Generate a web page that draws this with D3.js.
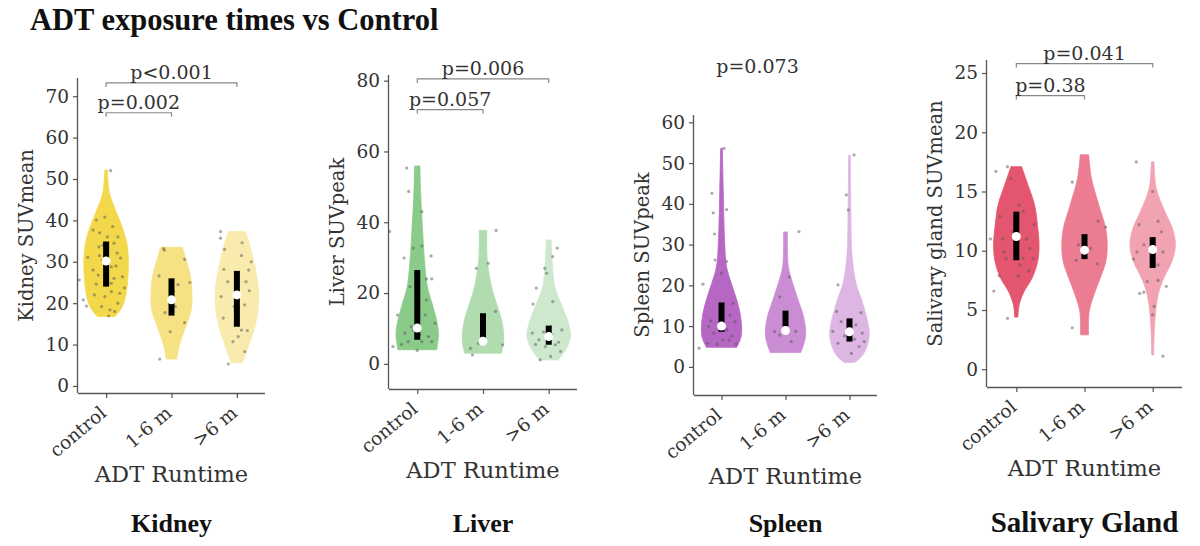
<!DOCTYPE html>
<html>
<head>
<meta charset="utf-8">
<script src="https://cdn.jsdelivr.net/npm/d3@7"></script>
<style>
  html, body { margin: 0; padding: 0; background: #fff; }
  svg { display: block; }
</style>
</head>
<body>
<svg id="chart" width="1200" height="546"></svg>
<script>
// ---------------- DATA ----------------
const categories = ["control", "1-6 m", ">6 m"];

// violin profiles: [value, relative half-width] from bottom to top (cut at data range)
const kidneyViolin = [
  [[16.8,0.4],[19.1,0.72],[22.4,0.9],[26.3,0.98],[30.4,1.0],[34.5,0.93],[38.4,0.72],[42.5,0.42],[46.6,0.15],[52.2,0.06]],
  [[6.5,0.23],[10.4,0.38],[14.3,0.64],[18.4,0.89],[22.4,0.92],[26.3,0.86],[30.4,0.66],[33.5,0.49]],
  [[5.6,0.25],[10.4,0.57],[14.3,0.81],[18.4,0.95],[22.4,0.98],[26.3,0.9],[30.4,0.75],[34.5,0.55],[37.3,0.38]]
];
const liverViolin = [
  [[4.0,0.87],[5.8,0.91],[8.7,0.95],[12.4,0.86],[17.1,0.66],[21.8,0.45],[29.4,0.32],[38.8,0.23],[48.2,0.15],[55.9,0.12]],
  [[3.0,0.82],[4.9,0.89],[7.7,0.93],[12.4,0.83],[17.1,0.6],[21.8,0.38],[29.4,0.19],[37.7,0.17]],
  [[1.1,0.42],[4.0,0.76],[7.7,0.98],[11.5,0.88],[16.2,0.6],[21.8,0.27],[29.4,0.15],[35.0,0.11]]
];
const spleenViolin = [
  [[4.8,0.7],[6.6,0.85],[8.2,0.92],[12.3,0.88],[16.4,0.7],[20.5,0.45],[24.6,0.23],[31.1,0.14],[43.4,0.08],[53.6,0.04]],
  [[3.5,0.7],[5.8,0.85],[8.2,0.93],[12.3,0.83],[16.4,0.58],[20.5,0.33],[24.6,0.13],[33.1,0.09]],
  [[1.1,0.24],[2.5,0.55],[5.0,0.8],[8.2,0.91],[12.3,0.78],[16.4,0.56],[20.5,0.3],[27.0,0.12],[39.3,0.06],[51.9,0.04]]
];
const salivaryViolin = [
  [[4.4,0.07],[5.4,0.12],[6.5,0.32],[7.7,0.68],[9.1,0.92],[10.5,0.98],[12.2,0.91],[13.85,0.79],[15.5,0.51],[17.1,0.23]],
  [[2.9,0.17],[4.85,0.2],[6.25,0.4],[7.7,0.68],[9.1,0.92],[10.5,0.98],[11.9,0.91],[13.85,0.62],[16.1,0.3],[18.1,0.18]],
  [[1.2,0.04],[4.0,0.09],[6.25,0.23],[7.7,0.48],[9.1,0.83],[10.5,0.98],[11.9,0.85],[13.3,0.53],[15.3,0.15],[17.5,0.06]]
];

// inner boxes: [q1, median, q3]
const kidneyBox   = [[24,30.2,34.9],[17,20.8,26],[14.3,22,27.8]];
const liverBox    = [[6.8,10.1,26.5],[7.4,6.4,14.3],[5.4,7.7,10.8]];
const spleenBox   = [[8.6,10,15.8],[9.9,8.9,13.8],[6.2,8.6,11.9]];
const salivaryBox = [[9.2,11.2,13.3],[9.3,10.05,11.4],[8.55,10.1,11.15]];

// strip points: [jitter (fraction of category step), value]
const kidneyPoints = [
  [[0.07,52],[-0.15,40.1],[-0.02,40.8],[-0.2,37.7],[-0.1,37],[0.18,36],[0.12,34.5],[-0.11,33.6],[-0.28,31.1],[0.22,30.9],[0.08,28.8],[-0.12,26.8],[0.25,26.4],[-0.15,24.6],[0.28,23.7],[0.08,22.8],[-0.02,21.6],[0.18,20],[0.06,18.4],[0.13,18],[-0.35,20.8],[-0.3,19.3],[0.04,16.9],[-0.06,30.4],[0.02,36],[0.17,32.1],[-0.2,28],[0.08,24.8],[0.21,22.4],[-0.07,19.2],[-0.41,25.6],[0.1,38.5],[-0.05,34],[0.15,29],[-0.18,22],[0.0,27],[0.12,26],[-0.1,31.5]],
  [[-0.12,33.2],[-0.11,32.8],[0.2,30.6],[-0.19,26.6],[0.28,25],[-0.1,17.7],[0.2,15.3],[-0.02,13.1],[-0.18,6.5],[0.06,19.2],[0.03,22.8],[0.1,24.5]],
  [[-0.25,37.3],[-0.25,35.7],[-0.19,33],[0.08,34.6],[0.07,31.5],[-0.2,28.2],[0.18,28],[-0.14,25.2],[0.14,25.2],[-0.24,21.6],[0.19,23],[0.12,19.6],[-0.21,16.4],[0.07,13.5],[0.16,13.4],[-0.06,10.7],[0.02,11.9],[0.12,8.3],[-0.13,5.3],[-0.04,19.2],[0.22,30]]
];
const liverPoints = [
  [[-0.16,55.3],[-0.13,48.7],[0.07,43],[-0.2,29.9],[-0.06,32.7],[0.07,33.3],[0.21,30.5],[-0.42,37.4],[0.22,24],[0.14,24],[-0.11,21.8],[0.14,18.1],[-0.3,13.8],[0.12,13.8],[0.27,11.5],[-0.19,8.7],[-0.06,9.6],[0.17,7.7],[-0.14,6.3],[0.07,6.3],[0.22,6.3],[-0.37,4.9],[0,3.8],[-0.24,5.5],[0.04,8.2],[-0.09,10.5]],
  [[0.2,37.7],[-0.1,27],[0.08,28.4],[0.19,14.8],[-0.07,5.8],[-0.19,4.4],[0.3,5.4],[0.04,7],[-0.16,2.5],[0,6.5]],
  [[0.13,32.7],[0.06,30.3],[-0.06,27],[-0.03,25.6],[-0.19,21.4],[-0.24,16.9],[0.06,17.6],[0.03,10.5],[0.2,9.6],[-0.25,8.7],[-0.15,6.8],[0.1,5.4],[0.15,6.1],[-0.05,4.9],[0.03,2.1],[-0.13,1.1],[-0.2,5.5],[0.18,3.5],[0.05,8.2],[-0.08,9]]
];
const spleenPoints = [
  [[0.04,53.6],[-0.15,42.6],[-0.13,37.8],[0.08,38.6],[-0.11,32.6],[-0.1,26.2],[0.08,25.9],[-0.29,20.3],[0,23],[0.18,15.6],[0.13,12.7],[0.21,11.1],[-0.2,9.9],[0.08,9.1],[-0.12,8.3],[0.16,7.6],[0.02,6.6],[-0.22,5.8],[0.23,5.6],[-0.07,5.6],[-0.35,4.6],[0.12,6.6],[-0.17,11.3]],
  [[0.21,33.2],[-0.09,17.2],[0.06,22.1],[-0.17,8.7],[0.16,8.7],[0,8.3],[0.09,6.2],[-0.09,7.8]],
  [[0.07,52],[-0.05,42.2],[-0.02,38.5],[-0.18,20.1],[-0.2,13.6],[0.18,13.3],[-0.13,11.1],[0.1,10.3],[-0.26,8.7],[0.2,8.3],[-0.08,7.6],[0.08,6.8],[0.15,5],[0.03,3.3],[-0.18,5.8],[0.23,6.2]]
];
const salivaryPoints = [
  [[-0.3,16.7],[-0.13,17.1],[-0.08,16.1],[-0.24,12.9],[0.04,13.85],[0.1,13.3],[0.26,12.2],[-0.38,11],[0.15,11],[-0.18,9.9],[0.2,10.2],[0.1,9.35],[-0.15,9.35],[0.18,8.3],[0.05,8.8],[-0.33,6.6],[-0.13,4.3],[-0.05,11.6],[-0.2,11],[0.25,9.35],[0.03,7.9],[-0.25,7.9]],
  [[-0.18,15.8],[0.31,12],[0.2,12.5],[-0.09,10.5],[-0.12,9.2],[0.09,10.2],[0.19,8.9],[-0.18,3.5],[0,9.4]],
  [[-0.24,17.5],[0,15],[-0.2,12.2],[0.08,12.5],[0.13,11.6],[-0.23,9.9],[-0.13,10.5],[0.15,9.9],[0.08,8.8],[-0.08,7.4],[0.08,7.5],[0.2,7],[-0.19,6.4],[-0.13,6.5],[0.02,5.3],[0,4.6],[0.15,1.1],[-0.28,9.3]]
];

// y tick values
const kidneyTicks   = [0,10,20,30,40,50,60,70];
const liverTicks    = [0,20,40,60,80];
const spleenTicks   = [0,10,20,30,40,50,60];
const salivaryTicks = [0,5,10,15,20,25];

// significance annotations
const kidneyP   = [{a:0,b:1,label:"p=0.002",level:66},{a:0,b:2,label:"p<0.001",level:73.2}];
const liverP    = [{a:0,b:1,label:"p=0.057",level:71.8},{a:0,b:2,label:"p=0.006",level:80.5}];
const spleenP   = [{a:0,b:1,label:"p=0.073",level:72,noLine:true}];
const salivaryP = [{a:0,b:1,label:"p=0.38",level:23.1},{a:0,b:2,label:"p=0.041",level:25.8}];

// colours
const kidneyColors   = ["#f4d84b","#f6e282","#f8ebad"];
const liverColors    = ["#8acb8a","#b0dcb0","#cde8cd"];
const spleenColors   = ["#b666c3","#ca8dd4","#ddb6e4"];
const salivaryColors = ["#e4566f","#ec7c91","#f2a3b2"];

// ---------------- LAYOUT ----------------
const panels = [
  {title:"Kidney", ylabel:"Kidney SUVmean", x0:78, w:187, top:78, bottom:393, ydom:[-1.7,74.4],
   violin:kidneyViolin, box:kidneyBox, pts:kidneyPoints, ticks:kidneyTicks, pv:kidneyP, colors:kidneyColors, titleSize:26},
  {title:"Liver", ylabel:"Liver SUVpeak", x0:389, w:188, top:75, bottom:389, ydom:[-7.1,81.6],
   violin:liverViolin, box:liverBox, pts:liverPoints, ticks:liverTicks, pv:liverP, colors:liverColors, titleSize:26},
  {title:"Spleen", ylabel:"Spleen SUVpeak", x0:694, w:183, top:115, bottom:395, ydom:[-6.9,61.8],
   violin:spleenViolin, box:spleenBox, pts:spleenPoints, ticks:spleenTicks, pv:spleenP, colors:spleenColors, titleSize:26},
  {title:"Salivary Gland", ylabel:"Salivary gland SUVmean", x0:987, w:195, top:60, bottom:387, ydom:[-1.5,26.1],
   violin:salivaryViolin, box:salivaryBox, pts:salivaryPoints, ticks:salivaryTicks, pv:salivaryP, colors:salivaryColors, titleSize:29}
];

const SERIF = "'DejaVu Serif', serif";
const TITLE_SERIF = "'Liberation Serif', 'Times New Roman', serif";
const svg = d3.select("#chart");

svg.append("text")
  .attr("x", 30).attr("y", 30)
  .attr("font-family", TITLE_SERIF).attr("font-weight", "bold").attr("font-size", 30.5)
  .attr("fill", "#111")
  .text("ADT exposure times vs Control");

panels.forEach(p => {
  const g = svg.append("g");
  const x = d3.scalePoint().domain(categories).range([p.x0, p.x0 + p.w]).padding(0.43);
  const y = d3.scaleLinear().domain(p.ydom).range([p.bottom, p.top]);
  const step = x.step();
  const hw = 0.34 * step;

  // violins
  categories.forEach((c, i) => {
    const cx = x(c);
    const area = d3.area()
      .curve(d3.curveCatmullRom.alpha(0.5))
      .y(d => y(d[0]))
      .x0(d => cx - hw * d[1])
      .x1(d => cx + hw * d[1]);
    g.append("path").datum(p.violin[i])
      .attr("d", area)
      .attr("fill", p.colors[i])
      .attr("stroke", p.colors[i]).attr("stroke-width", 0.8);
  });

  // points
  categories.forEach((c, i) => {
    const cx = x(c);
    g.selectAll(null).data(p.pts[i]).enter().append("circle")
      .attr("cx", d => cx + d[0] * step)
      .attr("cy", d => y(d[1]))
      .attr("r", 1.6)
      .attr("fill", "#555").attr("opacity", 0.5);
  });

  // box + median
  categories.forEach((c, i) => {
    const cx = x(c);
    const [q1, med, q3] = p.box[i];
    g.append("rect")
      .attr("x", cx - 3).attr("width", 6)
      .attr("y", y(q3)).attr("height", y(q1) - y(q3))
      .attr("fill", "#000");
    g.append("circle")
      .attr("cx", cx).attr("cy", y(med)).attr("r", 4.5)
      .attr("fill", "#fff");
  });

  // axes
  const yAxis = d3.axisLeft(y).tickValues(p.ticks).tickSize(5).tickPadding(4);
  const ya = g.append("g").attr("transform", `translate(${p.x0},0)`).call(yAxis);
  ya.select(".domain").attr("d", `M-0.5,${p.top}V${p.bottom}`);
  const xAxis = d3.axisBottom(x).tickSize(5).tickPadding(4);
  const xa = g.append("g").attr("transform", `translate(0,${p.bottom})`).call(xAxis);
  xa.select(".domain").attr("d", `M${p.x0},0.5H${p.x0 + p.w}`);
  [ya, xa].forEach(a => {
    a.select(".domain").attr("stroke", "#555").attr("stroke-width", 1.3);
    a.selectAll(".tick line").attr("stroke", "#555").attr("stroke-width", 1.2);
    a.selectAll("text").attr("font-family", SERIF).attr("font-size", 18.5).attr("fill", "#333");
  });
  xa.selectAll(".tick text")
    .attr("text-anchor", "end")
    .attr("dy", null).attr("y", null)
    .attr("transform", "translate(1,22) rotate(-40)");

  // axis labels
  g.append("text")
    .attr("transform", `translate(${p.x0 - 45},${(p.top + p.bottom) / 2}) rotate(-90)`)
    .attr("text-anchor", "middle")
    .attr("font-family", SERIF).attr("font-size", 19.5).attr("fill", "#333")
    .text(p.ylabel);
  g.append("text")
    .attr("x", p.x0 + p.w / 2).attr("y", p.bottom + 89)
    .attr("text-anchor", "middle")
    .attr("font-family", SERIF).attr("font-size", 22.5).attr("fill", "#333")
    .text("ADT Runtime");

  // panel title
  g.append("text")
    .attr("x", p.x0 + p.w / 2).attr("y", 532)
    .attr("text-anchor", "middle")
    .attr("font-family", TITLE_SERIF).attr("font-weight", "bold").attr("font-size", p.titleSize)
    .attr("fill", "#111")
    .text(p.title);

  // significance brackets
  p.pv.forEach(s => {
    const xa1 = x(categories[s.a]), xb1 = x(categories[s.b]);
    const yy = y(s.level);
    if (!s.noLine) {
      g.append("path")
        .attr("d", `M${xa1},${yy + 4}V${yy}H${xb1}V${yy + 4}`)
        .attr("fill", "none").attr("stroke", "#888").attr("stroke-width", 1.2);
    }
    g.append("text")
      .attr("x", (xa1 + xb1) / 2 + (s.noLine ? 4 : 0))
      .attr("y", s.noLine ? yy : yy - 4)
      .attr("text-anchor", "middle")
      .attr("font-family", SERIF).attr("font-size", 19).attr("fill", "#333")
      .text(s.label);
  });
});
</script>
</body>
</html>
